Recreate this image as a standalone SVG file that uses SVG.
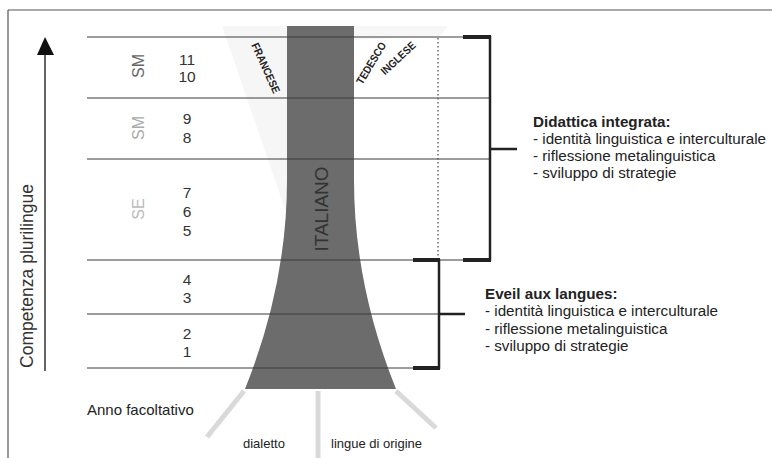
<svg xmlns="http://www.w3.org/2000/svg" width="772" height="458" viewBox="0 0 772 458">
<style>
  text { font-family: "Liberation Sans", Arial, sans-serif; }
  .num { font-size: 15.5px; fill: #333; text-anchor: middle; }
  .thin { stroke: #3a3a3a; stroke-width: 1; fill: none; }
  .br { stroke: #222; stroke-width: 2.5; fill: none; }
  .brend { stroke: #222; stroke-width: 4; fill: none; }
  .stem { stroke: #d9d9d9; stroke-width: 5; fill: none; }
  .lang { font-size: 11px; font-weight: bold; fill: #222; text-anchor: middle; }
  .rt { font-size: 15.2px; fill: #222; }
  .rth { font-size: 15.2px; fill: #222; font-weight: bold; }
</style>
<rect x="0" y="0" width="772" height="458" fill="#ffffff"/>
<g id="frame">
  <line x1="8" y1="10" x2="772" y2="10" stroke="#555" stroke-width="1.2"/>
  <line x1="8" y1="10" x2="8" y2="458" stroke="#555" stroke-width="1.2"/>
</g>
<g id="background-cones">
  <polygon points="222,26 287,26 287,215" fill="#f6f6f6"/>
  <polygon points="354,26 448,26 440,36 354,40" fill="#f7f7f7"/>
</g>
<g id="stems">
  <line class="stem" x1="244" y1="391" x2="207" y2="437"/>
  <line class="stem" x1="318" y1="391" x2="318" y2="458"/>
  <line class="stem" x1="396" y1="391" x2="436" y2="428"/>
</g>
<g id="italiano">
  <path d="M287,26 L354,26 L354,180 Q354,284.5 396,389 L245,389 Q287,284.5 287,180 Z" fill="#6c6c6c"/>
  <text transform="translate(328,209) rotate(-90)" text-anchor="middle" font-size="19" fill="#333">ITALIANO</text>
</g>
<g id="connectors">
  <line class="thin" x1="87" y1="37" x2="463" y2="37"/>
  <line class="thin" x1="87" y1="98" x2="490" y2="98"/>
  <line class="thin" x1="87" y1="159" x2="490" y2="159"/>
  <line class="thin" x1="87" y1="260" x2="490" y2="260"/>
  <line class="thin" x1="87" y1="314" x2="439" y2="314"/>
  <line class="thin" x1="87" y1="368" x2="413" y2="368"/>
  <line x1="438" y1="38" x2="438" y2="259" stroke="#555" stroke-width="1.3" stroke-dasharray="1.5 2.5"/>
  <line class="br" x1="490" y1="36" x2="490" y2="261"/>
  <line class="brend" x1="463" y1="37" x2="491" y2="37"/>
  <line class="brend" x1="463" y1="260" x2="491" y2="260"/>
  <line class="br" x1="490" y1="149" x2="517" y2="149"/>
  <line class="br" x1="439" y1="259" x2="439" y2="369"/>
  <line class="brend" x1="413" y1="260" x2="440" y2="260"/>
  <line class="brend" x1="413" y1="368" x2="440" y2="368"/>
  <line class="br" x1="439" y1="314" x2="465" y2="314"/>
  <line x1="45" y1="54" x2="45" y2="371" stroke="#333" stroke-width="1.5"/>
  <polygon points="45,37 37,55 54,55" fill="#111"/>
</g>
<g id="axis-label">
  <text transform="translate(33,276) rotate(-90)" text-anchor="middle" font-size="17.5" fill="#333">Competenza plurilingue</text>
</g>
<g id="school-labels">
  <text transform="translate(144,66) rotate(-90)" text-anchor="middle" font-size="16" fill="#666">SM</text>
  <text transform="translate(144,128) rotate(-90)" text-anchor="middle" font-size="16" fill="#aaa">SM</text>
  <text transform="translate(144,209) rotate(-90)" text-anchor="middle" font-size="16" fill="#bbb">SE</text>
</g>
<g id="years">
  <text class="num" x="187" y="65">11</text>
  <text class="num" x="187" y="82">10</text>
  <text class="num" x="187" y="124">9</text>
  <text class="num" x="187" y="143">8</text>
  <text class="num" x="187" y="198">7</text>
  <text class="num" x="187" y="217">6</text>
  <text class="num" x="187" y="236">5</text>
  <text class="num" x="187" y="285">4</text>
  <text class="num" x="187" y="303">3</text>
  <text class="num" x="187" y="339">2</text>
  <text class="num" x="187" y="357">1</text>
</g>
<g id="languages">
  <text class="lang" transform="translate(266,68) rotate(66)" y="4" textLength="54" lengthAdjust="spacingAndGlyphs">FRANCESE</text>
  <text class="lang" transform="translate(371,63) rotate(-59)" y="4" textLength="47" lengthAdjust="spacingAndGlyphs">TEDESCO</text>
  <text class="lang" transform="translate(398,58) rotate(-43)" y="4" textLength="43" lengthAdjust="spacingAndGlyphs">INGLESE</text>
</g>
<g id="bottom-labels">
  <text x="87" y="415" font-size="15" fill="#222">Anno facoltativo</text>
  <text x="243" y="448" font-size="13" fill="#222">dialetto</text>
  <text x="331" y="448" font-size="13" fill="#222">lingue di origine</text>
</g>
<g id="didattica-integrata">
  <text class="rth" x="533" y="127">Didattica integrata:</text>
  <text class="rt" x="533" y="144">- identità linguistica e interculturale</text>
  <text class="rt" x="533" y="161">- riflessione metalinguistica</text>
  <text class="rt" x="533" y="178">- sviluppo di strategie</text>
</g>
<g id="eveil-aux-langues">
  <text class="rth" x="485" y="299">Eveil aux langues:</text>
  <text class="rt" x="485" y="316">- identità linguistica e interculturale</text>
  <text class="rt" x="485" y="334">- riflessione metalinguistica</text>
  <text class="rt" x="485" y="351">- sviluppo di strategie</text>
</g>
</svg>
